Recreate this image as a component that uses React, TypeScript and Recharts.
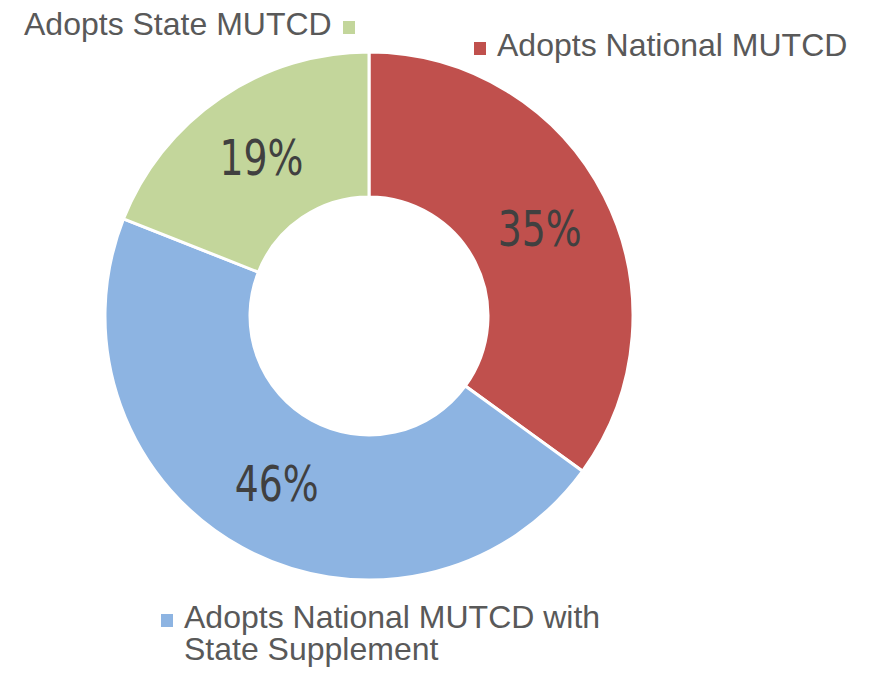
import React from 'react';
import { PieChart, Pie, Cell, Legend } from 'recharts';

const categories = ['Adopts National MUTCD', 'Adopts National MUTCD with State Supplement', 'Adopts State MUTCD'];
const shares = [35, 46, 19];
const colors = ['#C0504D', '#8DB4E2', '#C3D69B'];

const data = categories.map((name, i) => ({ name, value: shares[i] }));

const RAD = Math.PI / 180;

const renderLabel = (props: any) => {
  const { cx, cy, midAngle, innerRadius, outerRadius, value } = props;
  const r = (innerRadius + outerRadius) / 2;
  const x = cx + r * Math.cos(-midAngle * RAD);
  const y = cy + r * Math.sin(-midAngle * RAD);
  return (
    <text
      x={0}
      y={0}
      transform={`translate(${x},${y}) scale(0.84,1)`}
      textAnchor="middle"
      dominantBaseline="central"
      fill="#404040"
      style={{ fontFamily: '"DejaVu Sans Condensed", "Liberation Sans Narrow", sans-serif', fontSize: 50 }}
    >
      {`${value}%`}
    </text>
  );
};

const legendBoxes: Record<string, { left: number; top: number; align: 'left' | 'right'; width: number }> = {
  'Adopts State MUTCD': { left: 24, top: 8, align: 'right', width: 340 },
  'Adopts National MUTCD': { left: 474, top: 29, align: 'left', width: 390 },
  'Adopts National MUTCD with State Supplement': { left: 161, top: 601, align: 'left', width: 450 },
};

const LegendContent = (props: any) => {
  const { payload } = props;
  return (
    <div style={{ position: 'relative', width: 869, height: 676 }}>
      {(payload || []).map((entry: any) => {
        const box = legendBoxes[entry.value];
        if (!box) return null;
        const marker = (
          <span
            style={{
              display: 'inline-block',
              width: 12,
              height: 13,
              background: entry.color,
              marginTop: 13,
              flex: '0 0 auto',
            }}
          />
        );
        const label = <span>{entry.value}</span>;
        return (
          <div
            key={entry.value}
            style={{
              position: 'absolute',
              left: box.left,
              top: box.top,
              width: box.width,
              display: 'flex',
              alignItems: 'flex-start',
              fontFamily: '"Liberation Sans", Arial, sans-serif',
              fontSize: 32,
              lineHeight: '32px',
              color: '#595959',
              gap: 11,
            }}
          >
            {box.align === 'right' ? (
              <>
                {label}
                {marker}
              </>
            ) : (
              <>
                {marker}
                {label}
              </>
            )}
          </div>
        );
      })}
    </div>
  );
};

export default function App() {
  return (
    <div style={{ position: 'absolute', left: 0, top: 0, width: 869, height: 676, background: '#fff' }}>
      <PieChart width={869} height={676} margin={{ top: 0, right: 0, bottom: 0, left: 0 }}>
        <Pie
          data={data}
          dataKey="value"
          nameKey="name"
          cx={369}
          cy={316}
          innerRadius={119}
          outerRadius={264}
          startAngle={90}
          endAngle={-270}
          stroke="#ffffff"
          strokeWidth={3}
          label={renderLabel}
          labelLine={false}
          isAnimationActive={false}
        >
          {data.map((d, i) => (
            <Cell key={d.name} fill={colors[i]} />
          ))}
        </Pie>
        <Legend
          content={<LegendContent />}
          wrapperStyle={{ position: 'absolute', left: 0, top: 0, width: 869, height: 676 }}
        />
      </PieChart>
    </div>
  );
}
